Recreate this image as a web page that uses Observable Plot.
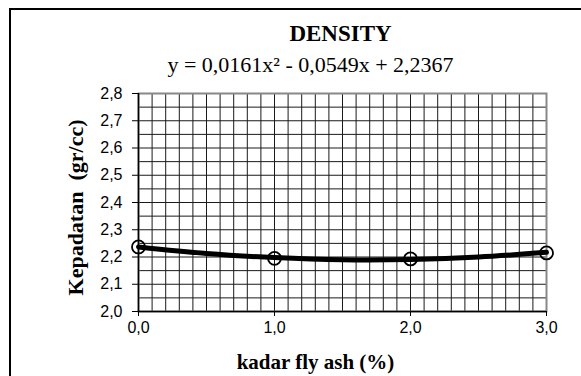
<!DOCTYPE html>
<html><head><meta charset="utf-8">
<script src="https://cdn.jsdelivr.net/npm/d3@7"></script>
<script src="https://cdn.jsdelivr.net/npm/@observablehq/plot@0.6"></script>
<style>
html,body{margin:0;padding:0;background:#fff;}
#wrap{position:relative;width:581px;height:376px;overflow:hidden;background:#fff;}
#wrap svg{position:absolute;left:0;top:0;}
#frame{position:absolute;left:9px;top:8px;width:620px;height:420px;border-left:2px solid #000;border-top:2px solid #000;box-sizing:border-box;pointer-events:none;}
</style></head><body>
<div id="wrap"><div id="frame"></div></div>
<script>
// measured points
const kadar = [0, 1, 2, 3];
const density = [2.237, 2.195, 2.193, 2.215];
// trend line values
const trendX = [0, 0.5, 1, 1.5, 2, 2.5, 3];
const trendY = [2.237, 2.213, 2.198, 2.190, 2.191, 2.200, 2.217];
// ticks
const xTicks = [0, 1, 2, 3];
const xTickLabels = ["0,0", "1,0", "2,0", "3,0"];
const yTicks = [2.0, 2.1, 2.2, 2.3, 2.4, 2.5, 2.6, 2.7, 2.8];
const yTickLabels = ["2,0", "2,1", "2,2", "2,3", "2,4", "2,5", "2,6", "2,7", "2,8"];
// texts
const title = "DENSITY";
const equation = "y = 0,0161x\u00b2 - 0,0549x + 2,2367";
const xLabel = "kadar fly ash (%)";
const yLabel = "Kepadatan  (gr/cc)";

const points = kadar.map((x, i) => ({x, y: density[i]}));
const trend = trendX.map((x, i) => ({x, y: trendY[i]}));
const serif = "'Liberation Serif', 'Times New Roman', serif";
const sans = "'Liberation Sans Narrow', 'Liberation Sans', Arial, sans-serif";
const mid = {textAnchor: "middle", lineAnchor: "middle", fill: "#000", fontFamily: serif};

const chart = Plot.plot({
  width: 581, height: 376,
  marginLeft: 138, marginRight: 35, marginTop: 93, marginBottom: 65,
  style: {background: "transparent", overflow: "visible"},
  x: {domain: [0, 3]},
  y: {domain: [2.0, 2.8]},
  marks: [
    Plot.gridX({interval: 0.1, stroke: "#1a1a1a", strokeOpacity: 1, strokeWidth: 1}),
    Plot.gridY({interval: 0.05, stroke: "#1a1a1a", strokeOpacity: 1, strokeWidth: 1}),
    Plot.frame({stroke: "#888", strokeWidth: 2}),
    Plot.ruleX([0], {stroke: "#000", strokeWidth: 1.5}),
    Plot.ruleY([2.0], {stroke: "#000", strokeWidth: 1.5}),
    Plot.axisX({ticks: xTicks, tickFormat: (d, i) => xTickLabels[i], tickSize: 5, tickPadding: 5,
      fontSize: 16, fontFamily: sans, label: null, stroke: "#000"}),
    Plot.axisY({ticks: yTicks, tickFormat: (d, i) => yTickLabels[i], tickSize: 6, tickPadding: 10,
      fontSize: 16, fontFamily: sans, label: null, stroke: "#000"}),
    Plot.line(trend, {x: "x", y: "y", curve: "natural", stroke: "#000", strokeWidth: 5}),
    Plot.dot(points, {x: "x", y: "y", r: 6.5, stroke: "#000", strokeWidth: 1.8, fill: "none"}),
    Plot.text([title], {...mid, frameAnchor: "top", dx: -2, dy: -60, fontWeight: "bold", fontSize: 23}),
    Plot.text([equation], {...mid, frameAnchor: "top", dx: -32, dy: -29, fontSize: 22}),
    Plot.text([yLabel], {...mid, frameAnchor: "left", dx: -63, dy: 5, rotate: -90, fontWeight: "bold", fontSize: 22}),
    Plot.text([xLabel], {...mid, frameAnchor: "bottom", dx: -27, dy: 51, fontWeight: "bold", fontSize: 21})
  ]
});
document.getElementById("wrap").insertBefore(chart, document.getElementById("frame"));
</script>
</body></html>
